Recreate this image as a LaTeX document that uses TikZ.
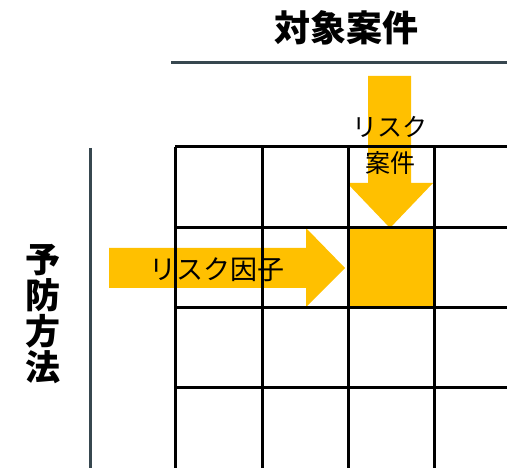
\documentclass[tikz,border=0pt]{standalone}
\usepackage{fontspec}
\newfontfamily\jp{Noto Sans CJK JP}
\definecolor{amber}{HTML}{FFC000}
\definecolor{slate}{HTML}{37474F}
\begin{document}
\begin{tikzpicture}[x=1pt,y=-1pt,
  gridline/.style={line width=3pt,black},
  axisline/.style={line width=3pt,slate},
  title/.style={font=\jp\bfseries\fontsize{36}{36}\selectfont,inner sep=0pt},
  lbl/.style={font=\jp\fontsize{25}{36}\selectfont,inner sep=0pt,align=center}]
\useasboundingbox (0,0) rectangle (507,468);
% highlighted cell
\fill[amber] (348,228) rectangle (434,308);
% arrows
\fill[amber] (368,76) -- (411,76) -- (411,183) -- (433,183) -- (390,228) -- (347,183) -- (368,183) -- cycle;
\fill[amber] (109,248) -- (306,248) -- (306,228) -- (345,268) -- (306,307) -- (306,288) -- (109,288) -- cycle;
% grid
\foreach \x in {175,262,348,434} \draw[gridline] (\x,147) -- (\x,468);
\foreach \y in {147,228,308,388} \draw[gridline] (175,\y) -- (507,\y);
% axes
\draw[axisline] (171,63) -- (507,63);
\draw[axisline] (90,148) -- (90,468);
% texts
\node[title] (t) at (346,28) {対象案件};
\node[title,align=center,font=\jp\bfseries\fontsize{35}{36}\selectfont] (l) at (43,314) {予\\防\\方\\法};
\node[lbl] (rc) at (390,145) {リスク\\案件};
\node[lbl,font=\jp\fontsize{27}{28}\selectfont] (rf) at (217,270) {リスク因子};
\end{tikzpicture}
\end{document}
